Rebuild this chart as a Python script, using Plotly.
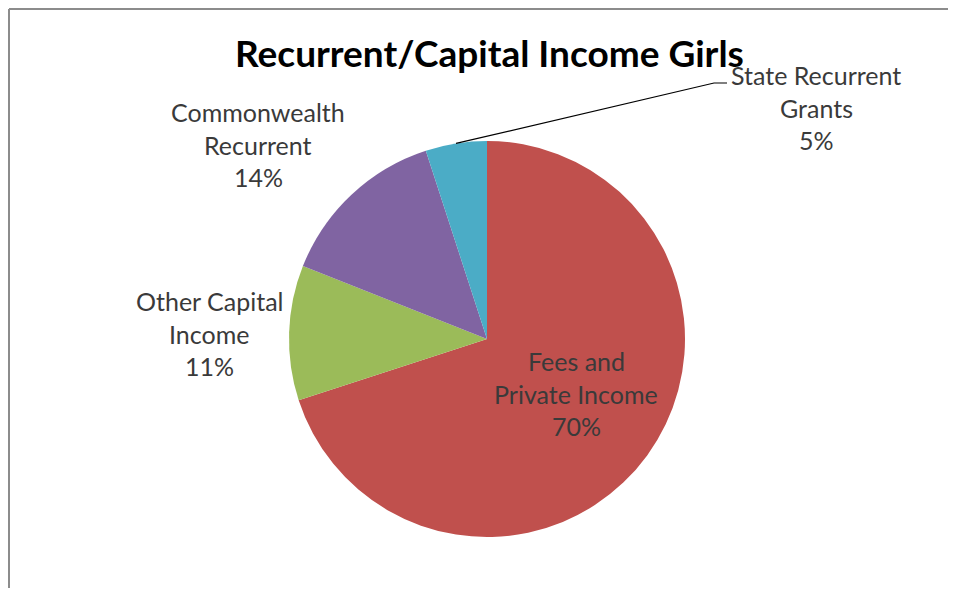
import math
import plotly.graph_objects as go

categories = ["Fees and Private Income", "Other Capital Income", "Commonwealth Recurrent", "State Recurrent Grants"]
values = [70, 11, 14, 5]
colors = ["#C0504D", "#9BBB59", "#8064A2", "#4BACC6"]
label_lines = [["Fees and", "Private Income", "70%"],
               ["Other Capital", "Income", "11%"],
               ["Commonwealth", "Recurrent", "14%"],
               ["State Recurrent", "Grants", "5%"]]
title_text = "Recurrent/Capital Income Girls"

# page has an 8px body margin; figure sized to fit the window
OFF = 8
W, H = 956 - 2 * OFF, 596 - 2 * OFF
cx, cy, r = 487 - OFF, 339 - OFF, 198

fig = go.Figure(go.Pie(
    labels=categories, values=values, sort=False, direction="clockwise", rotation=0,
    marker=dict(colors=colors, line=dict(width=0)),
    textinfo="none", hoverinfo="label+percent", showlegend=False,
    domain=dict(x=[(cx - r) / W, (cx + r) / W], y=[1 - (cy + r) / H, 1 - (cy - r) / H]),
))

def px(x):
    return (x - OFF) / W

def py(y):
    return 1 - (y - OFF) / H

# label block positions (center x, first line y) in page pixels
label_pos = [(576, 361), (209, 301), (258, 112), (816, 75)]
line_gap = 32.5
annotations = []
for lines, (lx, ly) in zip(label_lines, label_pos):
    for i, t in enumerate(lines):
        annotations.append(dict(x=px(lx), y=py(ly + i * line_gap), xref="paper", yref="paper",
                                text=t, showarrow=False, xanchor="center", yanchor="middle",
                                font=dict(family="Lato", size=25, color="#3A3A3A")))
annotations.append(dict(x=px(489), y=py(52), xref="paper", yref="paper", text="<b>" + title_text + "</b>",
                        showarrow=False, xanchor="center", yanchor="middle",
                        font=dict(family="Lato", size=37, color="#000000")))

# leader line for the small slice, starting from the slice's mid-angle on the rim
total = sum(values)
start = sum(values[:3]) / total * 360
mid = math.radians(start + values[3] / total * 360 / 2)
sx, sy = cx + OFF + r * math.sin(mid), cy + OFF - r * math.cos(mid)
path = f"M {px(sx)} {py(sy)} L {px(714)} {py(83)} L {px(727)} {py(83)}"

shapes = [
    dict(type="path", xref="paper", yref="paper", path=path, line=dict(color="#000000", width=1.2)),
    dict(type="line", xref="paper", yref="paper", x0=1 / W, y0=1 - 1 / H, x1=1, y1=1 - 1 / H,
         line=dict(color="#8C8C8C", width=2)),
    dict(type="line", xref="paper", yref="paper", x0=1 / W, y0=1 - 1 / H, x1=1 / W, y1=0,
         line=dict(color="#8C8C8C", width=2)),
]

fig.update_layout(width=W, height=H, margin=dict(l=0, r=0, t=0, b=0),
                  paper_bgcolor="#FFFFFF", plot_bgcolor="#FFFFFF",
                  annotations=annotations, shapes=shapes)
fig.write_html("out.html")
